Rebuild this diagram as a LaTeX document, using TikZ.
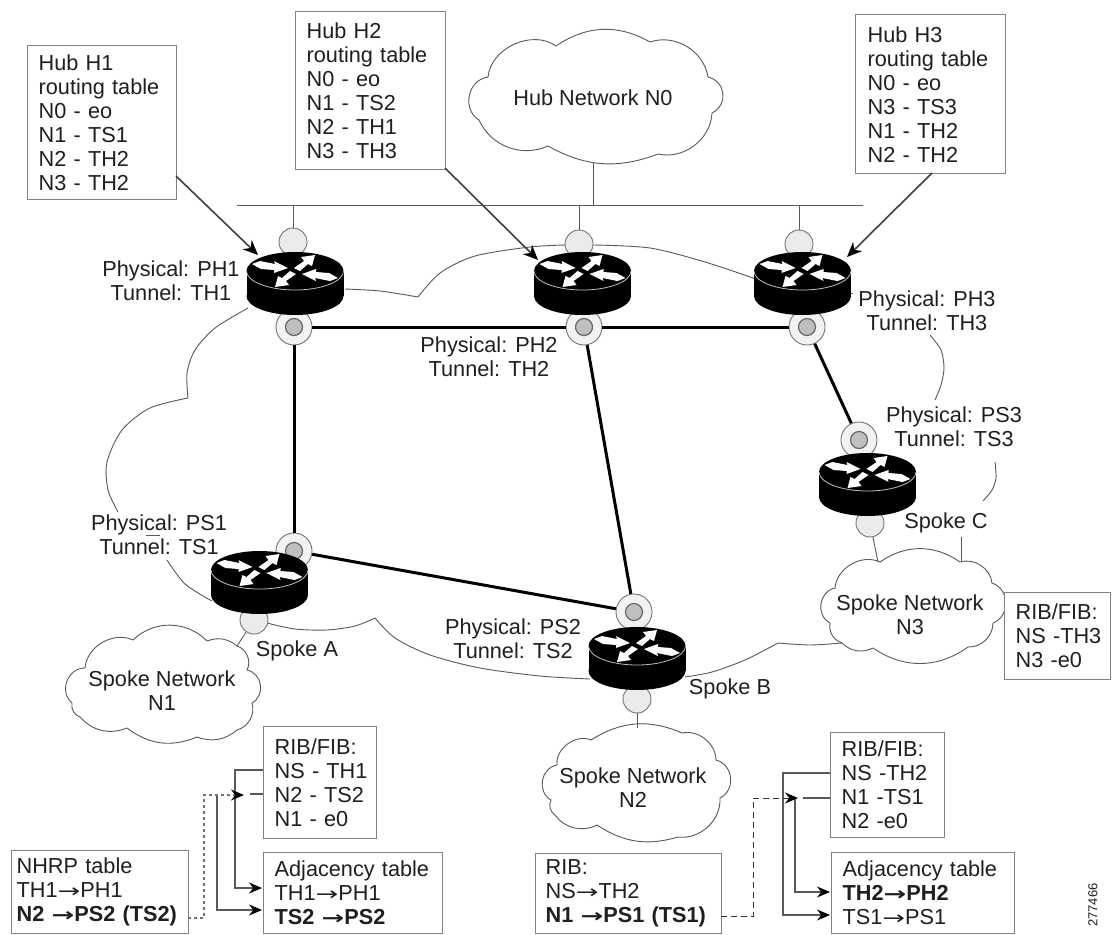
\documentclass[tikz,border=0pt]{standalone}
\usepackage{graphicx}
\usepackage{fontspec}
\setmainfont{Liberation Sans}
\newfontfamily\arrowfont{DejaVu Sans}
\usetikzlibrary{arrows.meta}
\newcommand{\arw}{{\arrowfont\scalebox{1.25}[0.85]{→}}}
\tikzset{
  txt/.style={font=\fontsize{21.7}{24}\selectfont,text=black!88,inner sep=0pt,align=center},
  tablebox/.style={draw=black!50,line width=1.3pt,fill=white,inner xsep=11pt,inner ysep=0pt,anchor=north west,align=left,
     font=\fontsize{21.7}{24}\selectfont,text=black!88},
  thin line/.style={draw=black!65,line width=0.9pt},
  cloudline/.style={draw=black!65,line width=0.9pt,fill=white},
  trunk/.style={draw=black,line width=3pt},
  callout/.style={draw=black!75,line width=1.6pt,-{Stealth[length=15pt,width=13pt,color=black]}},
  feed/.style={draw=black!65,line width=1.4pt,-{Stealth[length=13pt,width=11pt,color=black]}},
  feedplain/.style={draw=black!65,line width=1.4pt},
  ring/.style={circle,draw=black!55,line width=0.9pt,fill=black!5,minimum size=36pt,inner sep=0pt},
  ringcore/.style={circle,draw=black!60,line width=1.2pt,fill=black!25,minimum size=17pt,inner sep=0pt},
  port/.style={circle,draw=black!55,line width=0.9pt,fill=black!8,minimum size=28pt,inner sep=0pt},
  router/.pic={
    \fill[black] (0,25) ellipse [x radius=48.5pt,y radius=19pt];
    \fill[black] (-48.5,0) rectangle (48.5,25);
    \fill[black] (0,0) ellipse [x radius=48.5pt,y radius=19pt];
    \draw[black!25,line width=0.8pt] (-48.5,0) .. controls (-48.5,10.5) and (-26.7,19) .. (0,19) .. controls (26.7,19) and (48.5,10.5) .. (48.5,0);
    \foreach \s in {1,-1}{
      \begin{scope}[scale=\s]
        \fill[white] (-43,-7) -- (-35,-10) -- (-20,-7) -- (-21,-10) -- (-7,-3) -- (-21,2) -- (-21,-1) -- (-34,-2) -- cycle;
        \fill[white] (-1,-3) -- (9,-10) -- (6,-14) -- (20,-16) -- (17,-5) -- (13,-7) -- (5,0) -- cycle;
      \end{scope}
    }
  }
}
\begin{document}
\begin{tikzpicture}[x=1pt,y=-1pt]
\useasboundingbox[fill=white] (0,0) rectangle (1115,934);

% large cloud, in pieces
\path[thin line] plot[smooth] coordinates {(345,289) (380,291) (418,297)};
\path[thin line] plot[smooth] coordinates {(418,297) (440,273) (475,256) (530,247) (566,245)};
\path[thin line] plot[smooth] coordinates {(593,245) (650,248) (705,262) (756,279)};
\path[thin line] (846,293) -- (853,293);
\path[thin line] plot[smooth] coordinates {(930,335) (941,350) (944,368) (941,385) (935,400)};
\path[thin line] plot[smooth] coordinates {(995,462) (996,478) (992,490) (983,501)};
\path[thin line] plot[smooth] coordinates {(248,308) (215,328) (195,350) (187,373) (188,398)};
\path[thin line] plot[smooth] coordinates {(188,398) (150,408) (122,430) (107,462) (108,490) (118,512)};
\path[thin line] (146,535) -- (160,535);
\path[thin line] plot[smooth] coordinates {(167,560) (185,584) (212,601)};
\path[thin line] plot[smooth] coordinates {(267,623) (295,629) (327,630) (355,626) (375,618)};
\path[thin line] plot[smooth] coordinates {(375,618) (395,638) (430,655) (480,668) (540,676) (590,679)};
\path[thin line] plot[smooth] coordinates {(685,677) (712,672) (745,660) (778,643)};
\path[thin line] plot[smooth] coordinates {(778,643) (810,645) (842,643)};

% LAN and connectors
\coordinate (lanL) at (237,205);
\coordinate (lanR) at (863,205);
\coordinate (lanH1) at (293,205);
\coordinate (lanH2) at (579,205);
\coordinate (lanH3) at (799,205);
\coordinate (lanN0) at (593,205);
\coordinate (n0out) at (593,161);
\draw[thin line] (lanL) -- (lanR);
\draw[thin line] (n0out) -- (lanN0);

% ports and rings
\node[port] (portH1) at (293,242) {};
\node[port] (portH2) at (579,244) {};
\node[port] (portH3) at (799,244) {};
\node[port] (portC) at (870,523) {};
\node[port] (portA) at (254,620) {};
\node[port] (portB) at (637,699) {};
\node[ring] (ringH1) at (294,327) {};
\node[ringcore] (coreH1) at (294,327) {};
\node[ring] (ringH2) at (584,327) {};
\node[ringcore] (coreH2) at (584,327) {};
\node[ring] (ringH3) at (807,327) {};
\node[ringcore] (coreH3) at (807,327) {};
\node[ring] (ringC) at (859,440) {};
\node[ringcore] (coreC) at (859,440) {};
\node[ring] (ringA) at (294,551) {};
\node[ringcore] (coreA) at (294,551) {};
\node[ring] (ringB) at (634,612) {};
\node[ringcore] (coreB) at (634,612) {};

\draw[thin line] (lanH1) -- (portH1);
\draw[thin line] (lanH2) -- (portH2);
\draw[thin line] (lanH3) -- (portH3);

\draw[trunk] (ringH1) -- (ringH2);
\draw[trunk] (ringH2) -- (ringH3);
\draw[trunk] (ringH1) -- (ringA);
\draw[trunk] (ringH2) -- (ringB);
\draw[trunk] (ringH3) -- (ringC);
\draw[trunk] (ringA) -- (ringB);

% routers
\pic at (295,271) {router};
\pic at (582.5,271) {router};
\pic at (802.5,271) {router};
\pic at (867.5,472) {router};
\pic at (259.5,570) {router};
\pic at (637,646) {router};

% clouds
\path[cloudline] (488,77) to[bend left=60] (556,46) to[bend left=32] (650,42) to[bend left=50] (708,77)
  to[bend left=70,looseness=1.3] (712,113) to[bend left=50] (658,154) to[bend left=25] (548,146)
  to[bend left=45] (479,120) to[bend left=70,looseness=1.2] (488,77) -- cycle;
\path[cloudline] (85,668) to[bend left=55] (133,640) to[bend left=45] (207,641) to[bend left=30] (237,646)
  to[bend left=50] (247,670) to[bend left=70,looseness=1.2] (252,703) to[bend left=45] (237,730)
  to[bend left=30] (197,737) to[bend left=30] (127,728) to[bend left=35] (80,717) to[bend left=40] (72,703)
  to[bend left=70,looseness=1.2] (85,668) -- cycle;
\path[cloudline] (557,765) to[bend left=60] (591,740) to[bend left=28] (682,733) to[bend left=50] (716,760)
  to[bend left=70,looseness=1.2] (720,798) to[bend left=50] (678,837) to[bend left=25] (597,825)
  to[bend left=40] (555,815) to[bend left=40] (551,800) to[bend left=70,looseness=1.2] (557,765) -- cycle;
\path[cloudline] (835,588) to[bend left=55] (880,562) to[bend left=35] (960,562) to[bend left=50] (992,583)
  to[bend left=70,looseness=1.2] (993,623) to[bend left=45] (968,647) to[bend left=35] (873,648)
  to[bend left=35] (842,643) to[bend left=40] (830,623) to[bend left=70,looseness=1.2] (835,588) -- cycle;

\coordinate (cA) at (237,646);
\draw[thin line] (portA) -- (cA);
\coordinate (cB) at (637,728);
\draw[thin line] (portB) -- (cB);
\coordinate (cC) at (878,562);
\draw[thin line] (portC) -- (cC);
\coordinate (stubCa) at (961,537);
\coordinate (stubCb) at (961,561);
\draw[thin line] (stubCa) -- (stubCb);

% tables
\node[tablebox,text width=127pt,minimum height=154pt] (tabH1) at (27,45)
  {Hub H1\\routing table\\N0 - eo\\N1 - TS1\\N2 - TH2\\N3 - TH2};
\node[tablebox,text width=128pt,minimum height=158pt] (tabH2) at (295,11)
  {Hub H2\\routing table\\N0 - eo\\N1 - TS2\\N2 - TH1\\N3 - TH3};
\node[tablebox,inner xsep=12pt,text width=126pt,minimum height=159pt] (tabH3) at (855,14)
  {Hub H3\\routing table\\N0 - eo\\N3 - TS3\\N1 - TH2\\N2 - TH2};
\node[tablebox,text width=84pt,minimum height=87pt] (ribC) at (1004,592)
  {RIB/FIB:\\\mbox{NS -TH3}\\\mbox{N3 -e0}};
\node[tablebox,text width=91pt,minimum height=112pt] (ribA) at (263,726)
  {RIB/FIB:\\\mbox{NS - TH1}\\\mbox{N2 - TS2}\\\mbox{N1 - e0}};
\node[tablebox,text width=92pt,minimum height=105pt] (ribB) at (830,732)
  {RIB/FIB:\\\mbox{NS -TH2}\\\mbox{N1 -TS1}\\\mbox{N2 -e0}};
\node[tablebox,text width=157pt,minimum height=81pt] (adjA) at (263,852)
  {Adjacency table\\TH1\arw PH1\\\textbf{TS2 \arw PS2}};
\node[tablebox,text width=161pt,minimum height=81pt] (adjB) at (831,852)
  {Adjacency table\\\textbf{TH2\arw PH2}\\TS1\arw PS1};
\node[tablebox,inner xsep=5pt,text width=167pt,minimum height=83pt] (nhrp) at (11,850)
  {NHRP table\\TH1\arw PH1\\\textbf{N2 \arw PS2 (TS2)}};
\node[tablebox,inner xsep=10pt,text width=166pt,minimum height=80pt] (rib) at (535,853)
  {RIB:\\NS\arw TH2\\\textbf{N1 \arw PS1 (TS1)}};

% callouts
\coordinate (outH1) at (176,176);
\coordinate (tipH1) at (258,255);
\coordinate (outH2) at (445,168);
\coordinate (tipH2) at (538,260);
\coordinate (outH3) at (932,173);
\coordinate (tipH3) at (847,257);
\draw[callout] (outH1) -- (tipH1);
\draw[callout] (outH2) -- (tipH2);
\draw[callout] (outH3) -- (tipH3);

% feeds, left
\coordinate (fa1) at (263,770);
\coordinate (fa2) at (235,770);
\coordinate (fa3) at (235,888);
\coordinate (fa4) at (262,888);
\draw[feed] (fa1) -- (fa2) -- (fa3) -- (fa4);
\coordinate (fa5) at (217,795);
\coordinate (fa6) at (217,910);
\coordinate (fa7) at (262,910);
\draw[feed] (fa5) -- (fa6) -- (fa7);
\coordinate (fa8) at (250,794);
\coordinate (fa9) at (263,794);
\draw[feedplain] (fa8) -- (fa9);
\coordinate (da1) at (188,918);
\coordinate (da2) at (204,918);
\coordinate (da3) at (204,795);
\coordinate (da4) at (244,795);
\draw[draw=black!55,line width=1.7pt,dash pattern=on 3pt off 3pt,-{Stealth[length=13pt,width=11pt,color=black]}] (da1) -- (da2) -- (da3) -- (da4);

% feeds, right
\coordinate (fb1) at (830,773);
\coordinate (fb2) at (783,773);
\coordinate (fb3) at (783,915);
\coordinate (fb4) at (830,915);
\draw[feed] (fb1) -- (fb2) -- (fb3) -- (fb4);
\coordinate (fb5) at (795,798);
\coordinate (fb6) at (795,892);
\coordinate (fb7) at (830,892);
\draw[feed] (fb5) -- (fb6) -- (fb7);
\coordinate (fb8) at (803,798);
\coordinate (fb9) at (830,798);
\draw[feedplain] (fb8) -- (fb9);
\coordinate (db1) at (721,916);
\coordinate (db2) at (753,916);
\coordinate (db3) at (753,798);
\coordinate (db4) at (798,798);
\draw[draw=black!80,line width=1pt,dash pattern=on 6pt off 4pt,-{Stealth[length=13pt,width=11pt,color=black]}] (db1) -- (db2) -- (db3) -- (db4);

% labels
\node[txt] (lN0) at (593,98) {Hub Network N0};
\node[txt] (lN1) at (162,691) {Spoke Network\\N1};
\node[txt] (lN2) at (633,788) {Spoke Network\\N2};
\node[txt] (lN3) at (910,615) {Spoke Network\\N3};
\node[txt] (lPH1) at (171,281) {Physical: PH1\\Tunnel: TH1};
\node[txt] (lPH2) at (489,357) {Physical: PH2\\Tunnel: TH2};
\node[txt] (lPH3) at (927,311) {Physical: PH3\\Tunnel: TH3};
\node[txt] (lPS1) at (159,535) {Physical: PS1\\Tunnel: TS1};
\node[txt] (lPS2) at (513,639) {Physical: PS2\\Tunnel: TS2};
\node[txt] (lPS3) at (954,427) {Physical: PS3\\Tunnel: TS3};
\node[txt] (lSA) at (297,651) {Spoke A};
\node[txt] (lSB) at (730,689) {Spoke B};
\node[txt] (lSC) at (946,523) {Spoke C};
\node[txt,font=\fontsize{13}{14}\selectfont,rotate=90] (lid) at (1093,905) {277466};
\end{tikzpicture}
\end{document}
